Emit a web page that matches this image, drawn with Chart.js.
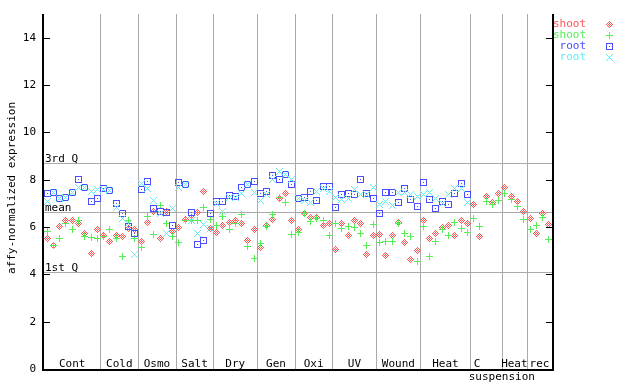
<!DOCTYPE html>
<html><head><meta charset="utf-8">
<script src="https://cdn.jsdelivr.net/npm/chart.js@4"></script>
<style>html,body{margin:0;padding:0;background:#fff}#wrap{width:640px;height:384px;position:relative}</style>
</head><body><div id="wrap"><canvas id="c" width="640" height="384"></canvas></div>
<script>
const groupLabels = ['Cont','Cold','Osmo','Salt','Dry','Gen','Oxi','UV','Wound','Heat','C suspension','Heat','rec'];
const groupSizes  = [9,6,6,6,7,6,6,7,7,8,5,4,4];
const yTicks = [0,2,4,6,8,10,12,14];
const refValues = [8.69, 6.62, 4.09];
const refNames  = ['3rd Q','mean','1st Q'];
const seriesNames = ['shoot','shoot','root','root'];

const shootDiamond = [5.50,5.23,6.03,6.26,6.26,6.13,5.73,4.89,5.88,
  5.62,5.40,5.65,5.61,5.95,5.88,
  5.40,6.20,6.66,5.52,6.66,5.83,
  5.99,6.33,6.41,6.62,7.51,5.95,
  5.78,6.07,6.20,6.26,6.16,5.41,5.88,
  5.14,6.07,6.30,7.21,7.40,6.26,
  5.88,6.55,6.41,6.41,6.07,6.16,
  5.06,6.16,5.65,6.28,6.16,4.85,5.65,
  5.69,4.80,5.65,6.20,5.35,4.64,5.02,
  6.26,5.52,5.73,5.99,6.07,5.65,6.28,6.16,
  6.96,5.59,7.30,7.05,7.40,
  7.68,7.30,7.06,6.66,
  6.37,5.73,6.55,6.12];
const shootPlus = [5.79,5.20,5.52,6.16,5.88,6.26,5.59,5.55,5.52,
  5.59,5.88,5.52,4.76,6.26,5.52,
  5.14,6.45,5.69,6.92,6.16,5.61,
  5.35,6.26,6.26,6.26,6.83,6.33,
  6.05,6.45,5.90,6.16,6.51,5.19,4.68,
  5.31,6.03,6.51,7.26,7.05,5.69,
  5.78,6.59,6.24,6.37,6.28,5.65,
  6.16,5.95,6.03,5.99,5.73,5.23,6.12,
  5.35,5.40,5.40,6.16,5.73,5.61,4.55,
  6.03,4.76,5.40,5.90,5.65,6.20,5.95,5.78,
  6.37,6.03,7.09,6.96,7.13,
  7.40,7.17,6.88,6.33,
  5.90,6.07,6.41,5.48];
const rootSquare = [7.43,7.47,7.20,7.26,7.45,8.00,7.67,7.09,7.21,
  7.64,7.54,7.00,6.58,6.03,5.73,
  7.59,7.93,6.79,6.66,6.62,6.07,
  7.89,7.81,6.62,5.27,5.45,6.58,
  7.09,7.09,7.34,7.28,7.68,7.81,7.93,
  7.40,7.51,8.16,8.02,8.23,7.81,
  7.19,7.26,7.51,7.13,7.72,7.72,
  6.83,7.38,7.43,7.38,8.02,7.43,7.21,
  6.58,7.44,7.44,7.05,7.64,7.17,6.88,
  7.89,7.17,6.79,7.09,6.96,7.43,7.85,7.38];
const rootCross = [7.06,7.47,7.20,7.26,7.45,7.69,7.67,7.48,7.58,
  7.57,7.54,6.82,6.37,6.16,4.85,
  7.85,7.64,7.13,6.58,5.73,6.79,
  7.68,7.81,6.26,5.73,6.12,5.95,
  7.00,6.66,7.26,7.26,7.43,7.81,7.47,
  7.13,7.38,8.02,8.34,8.23,8.02,
  7.19,7.13,7.05,7.51,7.64,7.51,
  7.26,7.17,7.21,7.59,7.38,7.38,7.68,
  6.96,7.09,6.92,7.44,7.44,7.38,7.30,
  7.38,7.47,7.21,7.00,7.38,7.61,7.64,7.05];

const colors = ['#ff5555','#55ee55','#4b4bff','#66eeee'];
const FONT = '11px "DejaVu Sans Mono", monospace';

function makeMarker(pattern, color) {
  const c = document.createElement('canvas');
  c.width = pattern[0].length; c.height = pattern.length;
  const g = c.getContext('2d'); g.fillStyle = color;
  pattern.forEach((row, y) => { for (let x = 0; x < row.length; x++) if (row[x] === '#') g.fillRect(x, y, 1, 1); });
  return c;
}
const markers = [
  makeMarker(["...#...","..#.#..",".#.#.#.","#.#.#.#",".#.#.#.","..#.#..","...#..."], colors[0]),
  makeMarker(["...#...","...#...","...#...","#######","...#...","...#...","...#..."], colors[1]),
  makeMarker(["#######","#.....#","#.....#","#..#..#","#.....#","#.....#","#######"], colors[2]),
  makeMarker(["#.....#",".#...#.","..#.#..","...#...","..#.#..",".#...#.","#.....#"], colors[3])
];

const toPts = arr => arr.map((v, i) => ({x: i, y: v}));
const nTotal = groupSizes.reduce((a, b) => a + b, 0);

const decor = {
  id: 'decor',
  beforeDatasetsDraw(chart) {
    const ctx = chart.ctx, a = chart.chartArea, xs = chart.scales.x, ys = chart.scales.y;
    ctx.save();
    ctx.imageSmoothingEnabled = false;
    ctx.strokeStyle = '#aaaaaa'; ctx.lineWidth = 1;
    // group boundaries
    let cum = 0;
    for (let g = 0; g < groupSizes.length - 1; g++) {
      cum += groupSizes[g];
      const px = Math.round(xs.getPixelForValue(cum - 0.5)) + 0.5;
      ctx.beginPath(); ctx.moveTo(px, a.top); ctx.lineTo(px, a.bottom); ctx.stroke();
    }
    // reference lines
    ctx.font = FONT; ctx.fillStyle = '#000'; ctx.textAlign = 'left'; ctx.textBaseline = 'alphabetic';
    refValues.forEach((v, i) => {
      const py = Math.round(ys.getPixelForValue(v)) + 0.5;
      ctx.beginPath(); ctx.moveTo(a.left, py); ctx.lineTo(a.right, py); ctx.stroke();
      ctx.fillText(refNames[i], a.left + 1, py - 2);
    });
    // group labels
    ctx.textAlign = 'center';
    cum = 0;
    groupSizes.forEach((n, g) => {
      const x0 = xs.getPixelForValue(cum - 0.5), x1 = xs.getPixelForValue(cum + n - 0.5);
      const words = groupLabels[g].split(' ');
      if (words.length > 1) {
        ctx.fillText(words[0], (x0 + x1) / 2 - 9, a.bottom - 2);
        ctx.fillText(words.slice(1).join(' '), x1, a.bottom + 11);
      } else {
        ctx.fillText(groupLabels[g], (x0 + x1) / 2, a.bottom - 2);
      }
      cum += n;
    });
    ctx.restore();
    ctx.imageSmoothingEnabled = false;
  },
  afterDatasetsDraw(chart) {
    const ctx = chart.ctx, a = chart.chartArea, ys = chart.scales.y;
    ctx.save();
    ctx.strokeStyle = '#000'; ctx.lineWidth = 2;
    ctx.beginPath();
    ctx.moveTo(a.left - 1, a.top); ctx.lineTo(a.left - 1, a.bottom + 1);
    ctx.lineTo(a.right + 1, a.bottom + 1); ctx.lineTo(a.right + 1, a.top);
    ctx.stroke();
    ctx.lineWidth = 1;
    ctx.font = FONT; ctx.fillStyle = '#000'; ctx.textAlign = 'right'; ctx.textBaseline = 'middle';
    yTicks.forEach(t => {
      const py = Math.round(ys.getPixelForValue(t)) + 0.5;
      ctx.beginPath();
      ctx.moveTo(a.left, py); ctx.lineTo(a.left + 6, py);
      ctx.moveTo(a.right, py); ctx.lineTo(a.right - 6, py);
      ctx.stroke();
      ctx.fillText(String(t), a.left - 8, py);
    });
    // axis title
    ctx.save();
    ctx.translate(12, 188); ctx.rotate(-Math.PI / 2);
    ctx.textAlign = 'center'; ctx.textBaseline = 'middle';
    ctx.fillText('affy-normalized expression', 0, 0);
    ctx.restore();
    // legend
    ctx.textAlign = 'right'; ctx.textBaseline = 'middle';
    ctx.imageSmoothingEnabled = false;
    seriesNames.forEach((s, i) => {
      const y = 24 + i * 11;
      ctx.fillStyle = colors[i];
      ctx.fillText(s, 586, y);
      ctx.drawImage(markers[i], 606, y - 3);
    });
    ctx.restore();
  }
};

new Chart(document.getElementById('c'), {
  type: 'scatter',
  data: {
    datasets: [
      {label: seriesNames[0], data: toPts(shootDiamond), pointStyle: markers[0], order: 4},
      {label: seriesNames[1], data: toPts(shootPlus), pointStyle: markers[1], order: 3},
      {label: seriesNames[2], data: toPts(rootSquare), pointStyle: markers[2], order: 2},
      {label: seriesNames[3], data: toPts(rootCross), pointStyle: markers[3], order: 1}
    ]
  },
  options: {
    responsive: false, animation: false, devicePixelRatio: 1,
    layout: {padding: {left: 44, right: 88, top: 14, bottom: 15}},
    plugins: {legend: {display: false}, tooltip: {enabled: false}},
    scales: {
      x: {type: 'linear', min: -0.5, max: nTotal - 0.5, display: false},
      y: {type: 'linear', min: 0, max: 15, display: false}
    }
  },
  plugins: [decor]
});
</script></body></html>
